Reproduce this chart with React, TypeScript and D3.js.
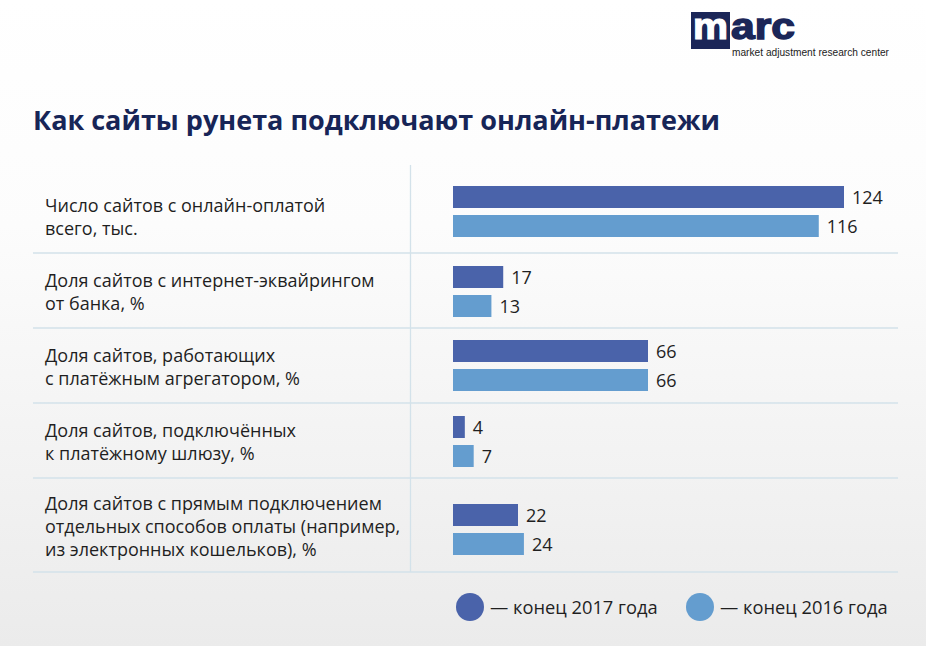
import React from "react";
import * as d3 from "d3";

const title = "Как сайты рунета подключают онлайн-платежи";
const categories: string[][] = [
  ["Число сайтов с онлайн-оплатой", "всего, тыс."],
  ["Доля сайтов с интернет-эквайрингом", "от банка, %"],
  ["Доля сайтов, работающих", "с платёжным агрегатором, %"],
  ["Доля сайтов, подключённых", "к платёжному шлюзу, %"],
  ["Доля сайтов с прямым подключением", "отдельных способов оплаты (например,", "из электронных кошельков), %"],
];
const units = ["thousand", "percent", "percent", "percent", "percent"];
const values2017 = [124, 17, 66, 4, 22];
const values2016 = [116, 13, 66, 7, 24];
const seriesNames = ["— конец 2017 года", "— конец 2016 года"];
const logoWord = ["m", "arc"];
const logoSub = "market adjustment research center";

const W = 926;
const H = 646;
const C_DARK = "#4a63aa";
const C_LIGHT = "#649dcf";
const C_GRID = "#d3e2ea";
const C_TEXT = "#1f1f1f";
const FONT = "'Open Sans', 'Noto Sans', sans-serif";

export default function App() {
  const x0 = 453;
  const xCount = d3.scaleLinear().domain([0, 124]).range([x0, 844]);
  const xPct = d3.scaleLinear().domain([0, 66]).range([x0, 648]);
  const scaleFor = (i: number) => (units[i] === "thousand" ? xCount : xPct);

  const rowTop = 178;
  const rowHeights = categories.map((c) => 37 + 19 * c.length);
  const edges = [rowTop, ...Array.from(d3.cumsum(rowHeights), (v) => rowTop + v)];
  const centers = categories.map((_, i) => (edges[i] + edges[i + 1]) / 2);
  // vertical nudge of the bar pair inside each row (layout only)
  const barNudge = [-4, 1, 0, 1, 4.5];

  const barH = 22;
  const gap = 7;
  const lineH = 23;
  const series = [
    { vals: values2017, color: C_DARK, off: -gap / 2 - barH },
    { vals: values2016, color: C_LIGHT, off: gap / 2 },
  ];

  return (
    <svg
      width={W}
      height={H}
      viewBox={`0 0 ${W} ${H}`}
      style={{ position: "absolute", left: 0, top: 0, display: "block" }}
    >
      <defs>
        <linearGradient id="bg" x1="0" y1="0" x2="0" y2="1">
          <stop offset="0" stopColor="#ffffff" />
          <stop offset="0.35" stopColor="#fcfcfc" />
          <stop offset="1" stopColor="#ebebeb" />
        </linearGradient>
      </defs>
      <rect x={0} y={0} width={W} height={H} fill="url(#bg)" />

      {/* logo */}
      <rect x={691} y={12} width={39} height={37} fill="#1b2658" />
      <text x={693} y={39} fontFamily="'Liberation Sans', Arial, sans-serif" fontWeight={700}
        fontSize={36} fill="#ffffff" stroke="#ffffff" strokeWidth={1.2} textLength={35} lengthAdjust="spacingAndGlyphs">
        {logoWord[0]}
      </text>
      <text x={731} y={39} fontFamily="'Liberation Sans', Arial, sans-serif" fontWeight={700}
        fontSize={36} fill="#1b2658" stroke="#1b2658" strokeWidth={1.4} textLength={64} lengthAdjust="spacingAndGlyphs">
        {logoWord[1]}
      </text>
      <text x={732} y={56} fontFamily="'Liberation Sans', Arial, sans-serif" fontSize={10}
        fill="#222" textLength={157} lengthAdjust="spacingAndGlyphs">
        {logoSub}
      </text>

      {/* title */}
      <text x={33} y={130} fontFamily={FONT} fontWeight={700} fontSize={27} fill="#172557"
        textLength={687} lengthAdjust="spacingAndGlyphs">
        {title}
      </text>

      {/* grid */}
      <line x1={410.5} x2={410.5} y1={165} y2={edges[edges.length - 1]} stroke={C_GRID} strokeWidth={1.3} />
      {edges.slice(1).map((y, i) => (
        <line key={i} x1={33} x2={898} y1={y} y2={y} stroke={C_GRID} strokeWidth={1.5} />
      ))}

      {/* category labels */}
      {categories.map((lines, i) => (
        <text key={i} fontFamily={FONT} fontSize={18} fill={C_TEXT}>
          {lines.map((ln, j) => (
            <tspan key={j} x={45} y={centers[i] + (j - (lines.length - 1) / 2) * lineH + 8}>
              {ln}
            </tspan>
          ))}
        </text>
      ))}

      {/* bars */}
      {categories.map((_, i) => {
        const sc = scaleFor(i);
        return (
          <g key={i}>
            {series.map((s, k) => {
              const y = centers[i] + barNudge[i] + s.off;
              const xe = sc(s.vals[i]);
              return (
                <g key={k}>
                  <rect x={x0} y={y} width={xe - x0} height={barH} fill={s.color} />
                  <text x={xe + 8} y={y + barH / 2 + 6.5} fontFamily={FONT} fontSize={18} fill={C_TEXT}>
                    {s.vals[i]}
                  </text>
                </g>
              );
            })}
          </g>
        );
      })}

      {/* legend */}
      {series.map((s, k) => (
        <g key={k}>
          <circle cx={470 + k * 230} cy={607} r={14} fill={s.color} />
          <text x={490 + k * 230} y={613.5} fontFamily={FONT} fontSize={18.3} fill={C_TEXT}>
            {seriesNames[k]}
          </text>
        </g>
      ))}
    </svg>
  );
}
